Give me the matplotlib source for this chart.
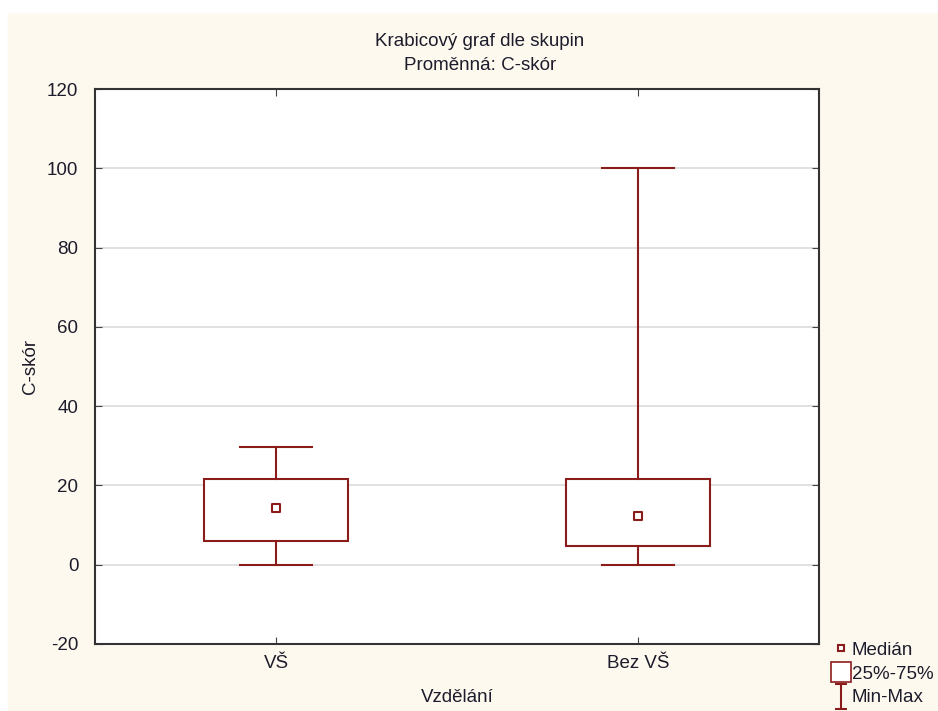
import matplotlib
matplotlib.use("Agg")
import matplotlib.pyplot as plt
from matplotlib.patches import Rectangle
from matplotlib.lines import Line2D
from matplotlib.path import Path

plt.rcParams["font.family"] = ["Liberation Sans", "DejaVu Sans"]
plt.rcParams["axes.unicode_minus"] = False

# ---- data ----
groups = ["VŠ", "Bez VŠ"]
medians = [14.3, 12.4]
q1 = [6.1, 4.6]
q3 = [21.6, 21.6]
mins = [0.0, 0.0]
maxs = [29.7, 100.0]
yticks = [-20, 0, 20, 40, 60, 80, 100, 120]

RED = "#8b1c1c"
CREAM = "#fef9ee"
TXT = "#1c1c2c"
FS = 13.5

W, H = 938, 711
fig = plt.figure(figsize=(W / 100, H / 100), dpi=100, facecolor="white")
# cream panel, thin white border on top/left like the original screenshot
fig.patches.append(Rectangle((8 / W, 0), 1 - 8 / W, 1 - 13 / H,
                             transform=fig.transFigure, color=CREAM, zorder=-10))

ax = fig.add_axes([95 / W, 1 - 644 / H, (819 - 95) / W, (644 - 89) / H])
ax.set_facecolor("white")

stats = [dict(med=m, q1=a, q3=b, whislo=lo, whishi=hi, label=g)
         for g, m, a, b, lo, hi in zip(groups, medians, q1, q3, mins, maxs)]
pos = list(range(1, len(groups) + 1))
ax.bxp(stats, positions=pos, widths=0.4, showfliers=False, patch_artist=True,
       boxprops=dict(facecolor="white", edgecolor=RED, linewidth=1.5),
       whiskerprops=dict(color=RED, linewidth=1.5),
       capprops=dict(color=RED, linewidth=1.5),
       medianprops=dict(linewidth=0), capwidths=0.2, zorder=3)
ax.scatter(pos, medians, marker="s", s=40, facecolor="white", edgecolor=RED,
           linewidth=1.5, zorder=4)

ax.set_xlim(0.5, len(groups) + 0.5)
ax.set_ylim(-20, 120)
ax.set_yticks(yticks)
ax.set_xticks(pos)
ax.set_xticklabels(groups)
ax.yaxis.grid(True, color="#dcdcdc", linewidth=1.2, zorder=0)
ax.set_axisbelow(True)
ax.tick_params(axis="both", direction="in", length=5, colors="#444444",
               labelcolor=TXT, labelsize=FS, top=True, right=True)
ax.tick_params(axis="x", pad=8)
ax.tick_params(axis="y", pad=12)
for s in ax.spines.values():
    s.set_color("#333333")
    s.set_linewidth(1.5)

ax.set_ylabel("C-skór", fontsize=FS, color=TXT, labelpad=6)
ax.set_xlabel("Vzdělání", fontsize=FS, color=TXT, labelpad=12)

fig.text(480 / W, 1 - 41 / H, "Krabicový graf dle skupin", ha="center", va="center",
         fontsize=FS, color=TXT)
fig.text(480 / W, 1 - 66 / H, "Proměnná: C-skór", ha="center", va="center",
         fontsize=FS, color=TXT)

# legend
ibeam = Path([(-0.5, 1), (0.5, 1), (0, 1), (0, -1), (-0.5, -1), (0.5, -1)],
             [Path.MOVETO, Path.LINETO, Path.MOVETO, Path.LINETO, Path.MOVETO, Path.LINETO])
handles = [
    Line2D([], [], ls="none", marker="s", ms=5, mfc="white", mec=RED, mew=1.5),
    Line2D([], [], ls="none", marker="s", ms=15, mfc="white", mec=RED, mew=1.2),
    Line2D([], [], ls="none", marker=ibeam, ms=18, mec=RED, mew=1.5),
]
leg = fig.legend(handles, ["Medián", "25%-75%", "Min-Max"], loc="lower left",
                 bbox_to_anchor=(820 / W, -0.012), frameon=False, fontsize=FS,
                 handlelength=0.8, handletextpad=0.2, labelspacing=0.35,
                 borderpad=0.2)
for t in leg.get_texts():
    t.set_color(TXT)

fig.savefig("out.png", dpi=100, facecolor="white")
